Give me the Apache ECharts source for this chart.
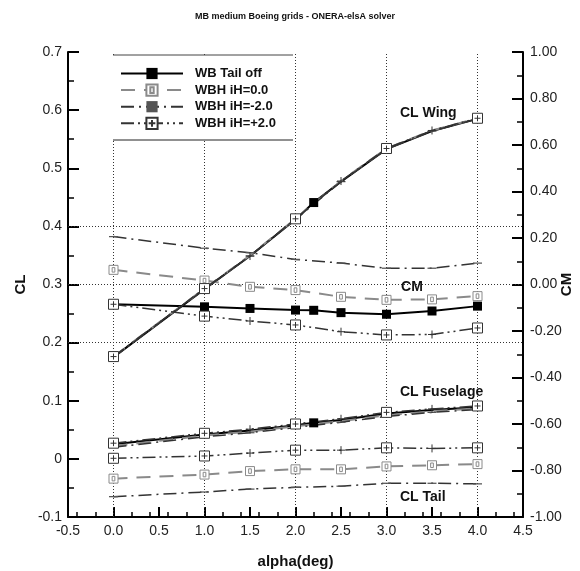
<!DOCTYPE html>
<html><head><meta charset="utf-8">
<script src="https://cdn.jsdelivr.net/npm/echarts@6/dist/echarts.min.js"></script>
<style>html,body{margin:0;padding:0;background:#fff}#c{width:580px;height:571px}</style>
</head><body><div id="c"></div>
<script>
// ---------------- data ----------------
const alphaTailOff = [0, 1, 1.5, 2, 2.2, 2.5, 3, 3.5, 4];
const alphaWBH     = [0, 1, 1.5, 2, 2.5, 3, 3.5, 4];

// WB Tail off
const tailOffWing = [0.175, 0.292, 0.349, 0.412, 0.441, 0.477, 0.533, 0.564, 0.585];
const tailOffCM   = [-0.085, -0.096, -0.103, -0.110, -0.111, -0.121, -0.128, -0.114, -0.093];
const tailOffFus  = [0.025, 0.042, 0.049, 0.058, 0.062, 0.067, 0.078, 0.084, 0.089];

// WBH iH=0.0
const ih0Wing = [0.176, 0.293, 0.350, 0.413, 0.478, 0.534, 0.565, 0.586];
const ih0CM   = [0.063, 0.017, -0.010, -0.024, -0.053, -0.066, -0.064, -0.050];
const ih0Fus  = [0.022, 0.040, 0.047, 0.056, 0.065, 0.075, 0.082, 0.087];
const ih0Tail = [-0.034, -0.027, -0.021, -0.018, -0.018, -0.013, -0.011, -0.009];

// WBH iH=-2.0
const ihm2Wing = [0.175, 0.292, 0.349, 0.412, 0.477, 0.533, 0.564, 0.585];
const ihm2CM   = [0.206, 0.156, 0.137, 0.108, 0.092, 0.070, 0.070, 0.092];
const ihm2Fus  = [0.020, 0.038, 0.045, 0.054, 0.063, 0.073, 0.080, 0.085];
const ihm2Tail = [-0.065, -0.057, -0.052, -0.049, -0.047, -0.042, -0.042, -0.043];

// WBH iH=+2.0
const ihp2Wing = [0.176, 0.293, 0.349, 0.413, 0.478, 0.534, 0.565, 0.586];
const ihp2CM   = [-0.085, -0.136, -0.157, -0.174, -0.203, -0.217, -0.215, -0.187];
const ihp2Fus  = [0.027, 0.044, 0.051, 0.060, 0.069, 0.080, 0.086, 0.091];
const ihp2Tail = [0.001, 0.005, 0.010, 0.015, 0.015, 0.019, 0.018, 0.019];

const seriesNames = ['WB Tail off', 'WBH iH=0.0', 'WBH iH=-2.0', 'WBH iH=+2.0'];
const curveLabels = ['CL Wing', 'CM', 'CL Fuselage', 'CL Tail'];
const titleText = 'MB medium Boeing grids - ONERA-elsA solver';
const xName = 'alpha(deg)', yLeftName = 'CL', yRightName = 'CM';
const xRange = [-0.5, 4.5], clRange = [-0.1, 0.7], cmRange = [-1, 1];

// ---------------- styles ----------------
const FONT = '"Liberation Sans", Arial, Helvetica, sans-serif';
const SQ_PLUS = 'path://M0,0L10,0L10,10L0,10Z M5,2L5,8 M2,5L8,5';
const PLUS = 'path://M5,0L5,10 M0,5L10,5';
const SQ_ZERO = 'path://M0,0L10,0L10,10L0,10Z M3.5,2.5L6.5,2.5L6.5,7.5L3.5,7.5Z';
const DASH = 'path://M0,0L10,0L10,1.4L0,1.4Z';

const styles = {
  'WB Tail off': {
    line: {color: '#000', width: 2, type: 'solid'},
    symbol: 'rect', size: 9, item: {color: '#000'}, keep: false,
    marker: (q, a) => q === 'cm' || a === 2.2 ? 'rect' : 'none'
  },
  'WBH iH=0.0': {
    line: {color: '#8a8a8a', width: 2, type: [14, 9]},
    symbol: SQ_ZERO, size: 9, item: {color: '#fff', borderColor: '#8a8a8a', borderWidth: 1}, keep: false,
    marker: (q, a) => (q === 'cm' || q === 'tail') ? SQ_ZERO : 'none'
  },
  'WBH iH=-2.0': {
    line: {color: '#333', width: 1.5, type: [13, 5, 2, 5]},
    symbol: DASH, size: 9, item: {color: '#555'}, keep: true,
    marker: (q, a) => DASH
  },
  'WBH iH=+2.0': {
    line: {color: '#333', width: 1.5, type: [13, 4, 2, 4, 2, 4]},
    symbol: SQ_PLUS, size: 10, item: {color: '#fff', borderColor: '#333', borderWidth: 1}, keep: false,
    marker: (q, a) => Number.isInteger(a) ? SQ_PLUS : PLUS
  }
};

function mk(name, q, alphas, vals, yIdx) {
  const st = styles[name];
  return {
    name, type: 'line', xAxisIndex: 0, yAxisIndex: yIdx,
    symbol: st.symbol, symbolSize: st.size, symbolKeepAspect: st.keep,
    showSymbol: true, showAllSymbol: true,
    lineStyle: st.line, itemStyle: st.item, z: 2,
    animation: false, silent: true,
    data: alphas.map((a, i) => {
      const s = st.marker(q, a);
      return {value: [a, vals[i]], symbol: s, symbolSize: s === PLUS ? 8 : st.size};
    })
  };
}

const series = [
  mk(seriesNames[0], 'wing', alphaTailOff, tailOffWing, 0),
  mk(seriesNames[0], 'cm',   alphaTailOff, tailOffCM, 1),
  mk(seriesNames[0], 'fus',  alphaTailOff, tailOffFus, 0),
  mk(seriesNames[1], 'wing', alphaWBH, ih0Wing, 0),
  mk(seriesNames[1], 'cm',   alphaWBH, ih0CM, 1),
  mk(seriesNames[1], 'fus',  alphaWBH, ih0Fus, 0),
  mk(seriesNames[1], 'tail', alphaWBH, ih0Tail, 0),
  mk(seriesNames[2], 'wing', alphaWBH, ihm2Wing, 0),
  mk(seriesNames[2], 'cm',   alphaWBH, ihm2CM, 1),
  mk(seriesNames[2], 'fus',  alphaWBH, ihm2Fus, 0),
  mk(seriesNames[2], 'tail', alphaWBH, ihm2Tail, 0),
  mk(seriesNames[3], 'wing', alphaWBH, ihp2Wing, 0),
  mk(seriesNames[3], 'cm',   alphaWBH, ihp2CM, 1),
  mk(seriesNames[3], 'fus',  alphaWBH, ihp2Fus, 0),
  mk(seriesNames[3], 'tail', alphaWBH, ihp2Tail, 0),
];

// grid lines (dotted) through the library's axes
series.push({
  name: '_grid', type: 'line', data: [], xAxisIndex: 0, yAxisIndex: 0, silent: true, animation: false,
  markLine: {
    silent: true, symbol: 'none', z: 1, animation: false,
    label: {show: false},
    lineStyle: {type: [1, 2], color: '#333', width: 1},
    data: [0, 1, 2, 3, 4].map(v => ({xAxis: v})).concat([0.2, 0.3, 0.4].map(v => ({yAxis: v})))
  }
});

const minorX = [];
for (let k = -2; k <= 22; k++) { const v = k / 5; if (Math.abs(v * 2 - Math.round(v * 2)) > 1e-6) minorX.push(+v.toFixed(1)); }

const labelStyle = {fontSize: 14, color: '#222', fontFamily: FONT};
const nameStyle = {fontSize: 15, fontWeight: 'bold', color: '#111', fontFamily: FONT};

const option = {
  backgroundColor: '#fff',
  animation: false,
  grid: {left: 68, right: 57, top: 52, bottom: 54, containLabel: false, outerBoundsMode: 'none'},
  xAxis: [{
    type: 'value', min: xRange[0], max: xRange[1], interval: 0.5, position: 'bottom',
    axisLine: {show: true, onZero: false, lineStyle: {color: '#000', width: 2}},
    axisTick: {show: true, inside: true, length: 10, lineStyle: {color: '#000', width: 2}},
    splitLine: {show: false},
    axisLabel: Object.assign({margin: 7, formatter: v => v.toFixed(1)}, labelStyle),
    name: xName, nameLocation: 'middle', nameGap: 37, nameMoveOverlap: false, nameTextStyle: nameStyle
  }, {
    type: 'value', min: xRange[0], max: xRange[1], position: 'bottom',
    axisLine: {show: false, onZero: false}, axisLabel: {show: false}, splitLine: {show: false},
    axisTick: {show: true, inside: true, length: 5, customValues: minorX, lineStyle: {color: '#000', width: 1.5}}
  }],
  yAxis: [{
    type: 'value', min: clRange[0], max: clRange[1], interval: 0.1, position: 'left',
    axisLine: {show: true, onZero: false, lineStyle: {color: '#000', width: 2}},
    axisTick: {show: true, inside: true, length: 11, lineStyle: {color: '#000', width: 2}},
    minorTick: {show: true, splitNumber: 2, length: 6, lineStyle: {color: '#000', width: 1.5}},
    splitLine: {show: false},
    axisLabel: Object.assign({margin: 6, formatter: v => Math.abs(v) < 1e-9 ? '0' : v.toFixed(1)}, labelStyle),
    name: yLeftName, nameLocation: 'middle', nameGap: 40, nameMoveOverlap: false, nameTextStyle: nameStyle
  }, {
    type: 'value', min: cmRange[0], max: cmRange[1], interval: 0.2, position: 'right',
    axisLine: {show: true, onZero: false, lineStyle: {color: '#000', width: 2}},
    axisTick: {show: true, inside: true, length: 11, lineStyle: {color: '#000', width: 2}},
    minorTick: {show: true, splitNumber: 2, length: 6, lineStyle: {color: '#000', width: 1.5}},
    splitLine: {show: false},
    axisLabel: Object.assign({margin: 7, formatter: v => v.toFixed(2)}, labelStyle),
    name: yRightName, nameLocation: 'middle', nameGap: 36, nameMoveOverlap: false, nameTextStyle: nameStyle
  }],
  legend: {
    data: seriesNames, orient: 'vertical', left: 120, top: 67,
    itemWidth: 62, itemHeight: 14, itemGap: 3.5, padding: 0,
    textStyle: {fontSize: 13, fontWeight: 'bold', color: '#111', fontFamily: FONT, padding: [0, 0, 0, 7]},
    selectedMode: false, z: 6
  },
  graphic: [
    {type: 'rect', z: 3, silent: true, shape: {x: 113, y: 55, width: 180, height: 85}, style: {fill: '#fff'}},
    {type: 'line', z: 5, silent: true, shape: {x1: 113, y1: 55, x2: 293, y2: 55}, style: {stroke: '#444', lineWidth: 1}},
    {type: 'line', z: 5, silent: true, shape: {x1: 113, y1: 140, x2: 293, y2: 140}, style: {stroke: '#222', lineWidth: 1}},
    {type: 'text', z: 6, silent: true, x: 295, y: 17, style: {text: titleText, font: 'bold 9px ' + FONT, fill: '#111', textAlign: 'center', textVerticalAlign: 'middle'}},
    {type: 'text', z: 6, silent: true, x: 400, y: 113, style: {text: curveLabels[0], font: 'bold 14px ' + FONT, fill: '#111', textAlign: 'left', textVerticalAlign: 'middle'}},
    {type: 'text', z: 6, silent: true, x: 412, y: 287, style: {text: curveLabels[1], font: 'bold 14px ' + FONT, fill: '#111', textAlign: 'center', textVerticalAlign: 'middle'}},
    {type: 'text', z: 6, silent: true, x: 400, y: 392, style: {text: curveLabels[2], font: 'bold 14px ' + FONT, fill: '#111', textAlign: 'left', textVerticalAlign: 'middle'}},
    {type: 'text', z: 6, silent: true, x: 400, y: 497, style: {text: curveLabels[3], font: 'bold 14px ' + FONT, fill: '#111', textAlign: 'left', textVerticalAlign: 'middle'}}
  ],
  series
};

const chart = echarts.init(document.getElementById('c'), null, {renderer: 'canvas'});
chart.setOption(option);
</script>
</body></html>
